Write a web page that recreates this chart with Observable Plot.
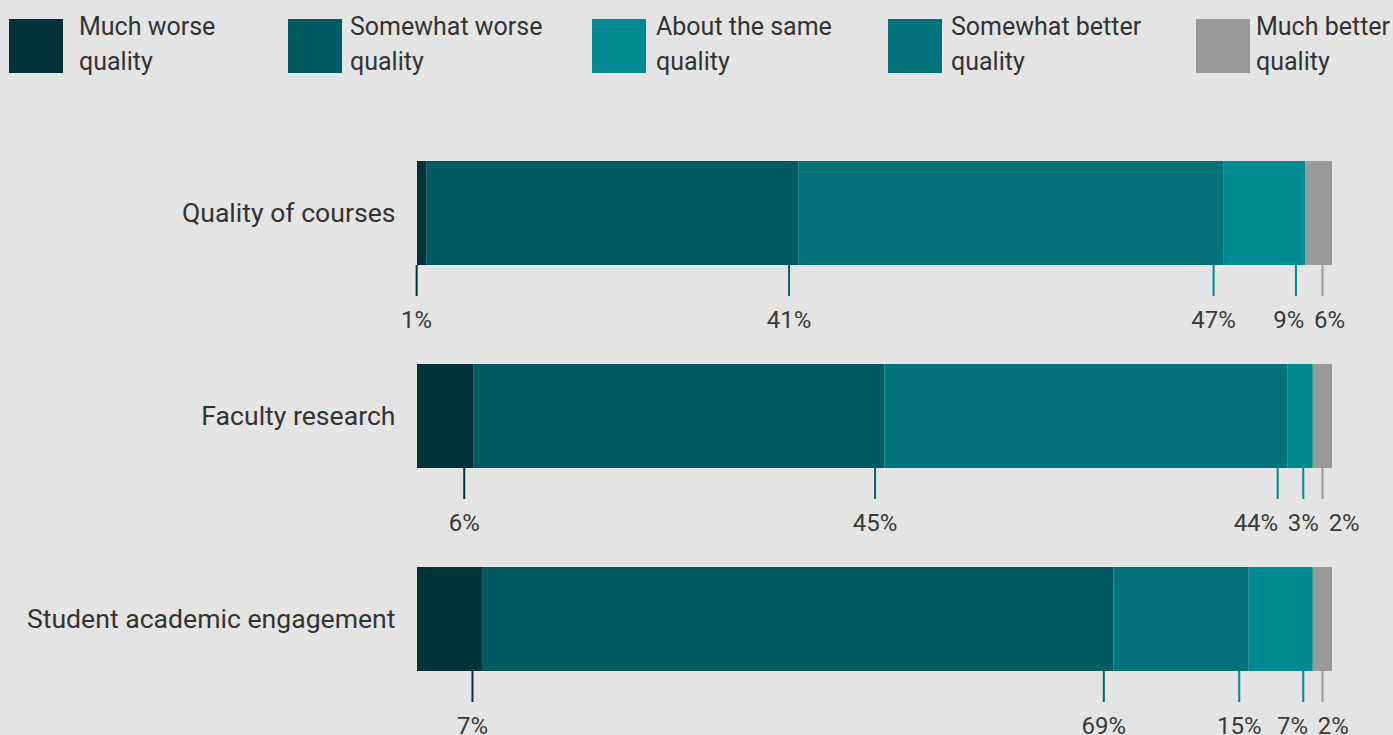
<!DOCTYPE html>
<html>
<head>
<meta charset="utf-8">
<script src="https://cdn.jsdelivr.net/npm/d3@7"></script>
<script src="https://cdn.jsdelivr.net/npm/@observablehq/plot@0.6"></script>
<style>
  html, body { margin: 0; padding: 0; background: #e4e4e4; font-family: Roboto, "Open Sans", sans-serif; color: #333; }
  #legend { position: relative; height: 100px; width: 1393px; overflow: hidden; }
  .sw { position: absolute; top: 19px; width: 54px; height: 54px; }
  .lbl { position: absolute; top: 9px; font-size: 25px; line-height: 35px; white-space: nowrap; color: #333; }
  #chart svg { display: block; }
</style>
</head>
<body>
<div id="legend"></div>
<div id="chart"></div>
<script>
// ---- data ----
const categories = ["Quality of courses", "Faculty research", "Student academic engagement"];
const seriesNames = ["Much worse quality", "Somewhat worse quality", "About the same quality", "Somewhat better quality", "Much better quality"];
const seriesColors = ["#023338", "#025A62", "#008A93", "#02737B", "#999999"];
const barOrder = ["Much worse quality", "Somewhat worse quality", "Somewhat better quality", "About the same quality", "Much better quality"];
const coursesValues = [1, 40.7, 46.4, 9, 2.9];
const researchValues = [6.2, 44.9, 44, 2.8, 2.1];
const engagementValues = [7.1, 69, 14.8, 7, 2.1];
const coursesLabels = ["1%", "41%", "47%", "9%", "6%"];
const researchLabels = ["6%", "45%", "44%", "3%", "2%"];
const engagementLabels = ["7%", "69%", "15%", "7%", "2%"];
const tickColors = ["#023338", "#03646B", "#008A93", "#008A93", "#999999"];

// ---- legend ----
const swatchLeft = [9, 288, 592, 888, 1196];
const textLeft = [79, 350, 656, 951, 1256];
const legend = document.getElementById("legend");
seriesNames.forEach((name, i) => {
  const sw = document.createElement("div");
  sw.className = "sw";
  sw.style.left = swatchLeft[i] + "px";
  sw.style.background = seriesColors[i];
  const lb = document.createElement("div");
  lb.className = "lbl";
  lb.style.left = textLeft[i] + "px";
  const words = name.split(" ");
  const last = words.pop();
  lb.innerHTML = words.join(" ") + "<br>" + last;
  legend.appendChild(sw); legend.appendChild(lb);
});

// ---- rows ----
const valueSets = [coursesValues, researchValues, engagementValues];
const labelSets = [coursesLabels, researchLabels, engagementLabels];
const marginLeft = 417, marginRight = 61, width = 1393;
const pxPerUnit = width - marginLeft - marginRight;
const tickOffset = -10;
const rows = [];
categories.forEach((cat, i) => {
  const vals = valueSets[i];
  const total = d3.sum(vals);
  let cum = 0;
  const rowItems = vals.map((v, j) => {
    cum += v;
    return {category: cat, series: barOrder[j], value: v, label: labelSets[i][j], order: j, end: cum / total};
  });
  // label dodge (pixels)
  const p = rowItems.map(r => r.end * pxPerUnit + tickOffset);
  const w = rowItems.map(r => (r.label.length - 1) * 13.3 + 17.5);
  const pad = 10;
  for (let it = 0; it < 200; it++) {
    for (let k = 0; k < p.length - 1; k++) {
      const need = (w[k] + w[k + 1]) / 2 + pad;
      const d = p[k + 1] - p[k];
      if (d < need) { const s = (need - d) / 2; p[k] -= s; p[k + 1] += s; }
    }
  }
  rowItems.forEach((r, k) => { r.labelX = p[k] / pxPerUnit; rows.push(r); });
});

const chart = Plot.plot({
  width,
  height: 635,
  marginLeft,
  marginRight,
  marginTop: 60,
  marginBottom: 64,
  style: {fontFamily: "Roboto, sans-serif", fontSize: "24px", color: "#333", background: "transparent", overflow: "visible"},
  x: {domain: [0, 1], axis: null},
  y: {domain: categories, paddingInner: 0.49, paddingOuter: 0, axis: null},
  color: {domain: seriesNames, range: seriesColors},
  marks: [
    Plot.ruleX(categories, {x: () => 0, y: d => d, insetTop: -11, insetBottom: -12, stroke: "#c6c6c6", strokeWidth: 2.5, dx: -1.25}),
    Plot.barX(rows, Plot.stackX({x: "value", y: "category", fill: "series", offset: "normalize"})),
    ...tickColors.map((c, j) => Plot.tickX(rows.filter(r => r.order === j), {x: "end", y: "category", dx: tickOffset, dy: 31, insetTop: 73, stroke: c, strokeWidth: 2})),
    Plot.text(rows, {x: "labelX", y: "category", text: "label", dy: 107, fontSize: 24, fill: "#3a3a3a"}),
    Plot.axisY({tickSize: 0, tickPadding: 22, fontSize: 26.6, label: null, fill: "#333"})
  ]
});
document.getElementById("chart").appendChild(chart);
</script>
</body>
</html>
